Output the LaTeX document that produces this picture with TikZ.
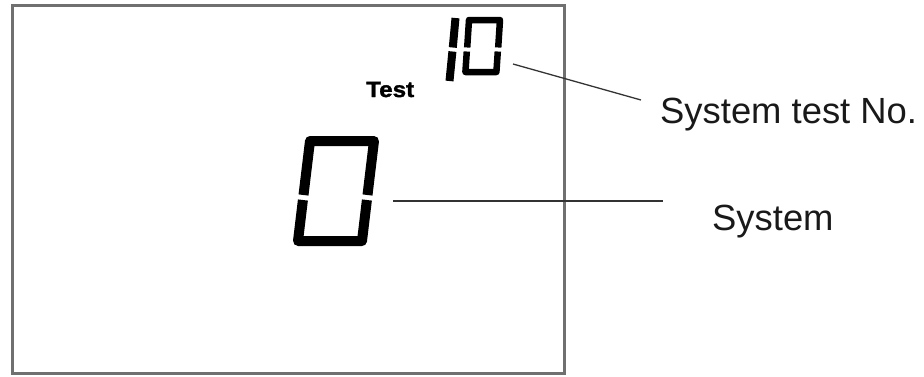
\documentclass[tikz,border=0pt]{standalone}
\usepackage{fontspec}
\setmainfont{Liberation Sans}
\newfontfamily\lcdfont[FakeStretch=1.1,BoldFeatures={FakeBold=1.5}]{Liberation Sans}
\definecolor{FrameGray}{rgb}{0.44,0.44,0.44}
\definecolor{LeadGray}{rgb}{0.20,0.20,0.20}
\definecolor{TextBlack}{rgb}{0.10,0.10,0.10}
\tikzset{
  segbig/.style={line width=10pt, line cap=butt, line join=round},
  segsmall/.style={line width=6.5pt, line cap=butt, line join=round},
  leader/.style={LeadGray, line width=1.3pt},
  callout/.style={TextBlack, inner sep=0pt, anchor=base west, font=\fontsize{36.4}{40}\selectfont}
}

\begin{document}
\begin{tikzpicture}[x=1pt, y=-1pt]

% ============================================================
% Canvas: 924 x 376, pixel units, y grows downwards
% ============================================================
\useasboundingbox (0,0) rectangle (924,376);

% LCD frame
\draw[FrameGray, line width=3pt] (12,5) rectangle (564,373);

% Small label above the main digit
\node[inner sep=0pt, anchor=base west, font=\lcdfont\fontsize{22}{24}\selectfont\bfseries] (testlbl) at (366,97) {Test};

% --- Small digits "10" (test number), slant 0.07
% digit 1
\draw[segsmall, line width=8pt] (455.5,18) -- (452.8,47.5);
\draw[segsmall, line width=8pt] (452.4,51.5) -- (449.5,81);
% digit 0
\draw[segsmall] (467.2,47.5) -- (469,20) -- (500,20) -- (498.2,47.5);
\draw[segsmall] (466.8,51.5) -- (465.4,72) -- (496.4,72) -- (497.8,51.5);

% --- Big digit "0" (system), slant 0.12
\draw[segbig] (303.5,195) -- (310,141) -- (374,141) -- (367.5,195);
\draw[segbig] (302.9,200) -- (298,241) -- (362,241) -- (366.9,200);

% ============================================================
% Callouts
% ============================================================
\node[callout] (testno) at (660,123) {System test No.};
\node[callout] (sysno) at (712,230) {System};

\coordinate (tnA) at (513,64);
\coordinate (tnB) at (641,100);
\coordinate (syA) at (393,201);
\coordinate (syB) at (663,201);

\draw[leader] (tnA) -- (tnB);
\draw[leader] (syA) -- (syB);

\end{tikzpicture}
\end{document}
